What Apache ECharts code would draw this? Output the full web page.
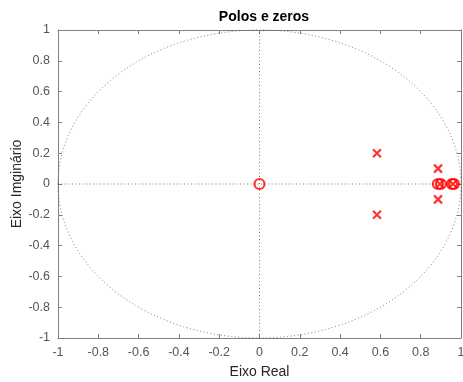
<!DOCTYPE html>
<html>
<head>
<meta charset="utf-8">
<script src="https://cdn.jsdelivr.net/npm/echarts@6/dist/echarts.min.js"></script>
<style>
html, body { margin: 0; padding: 0; background: #fff; }
#chart { width: 463px; height: 382px; }
</style>
</head>
<body>
<div id="chart"></div>
<script>
// zeros (o) and poles (x)
const zeros = [[0, 0], [0.885, 0], [0.9, 0], [0.955, 0], [0.965, 0]]
const poles = [[0.583, 0.2], [0.583, -0.2], [0.886, 0.1], [0.886, -0.1], [0.895, 0], [0.96, 0]]
const axisRange = [-1, 1]
const tickStep = 0.2

const myChart = echarts.init(document.getElementById('chart'))

const fontFam = 'Liberation Sans, Arial, sans-serif'
const axisColor = '#7f7f7f'
const labelColor = '#555'

function boxAxis(pos, showLabel) {
	return {
		type: 'value',
		position: pos,
		min: axisRange[0],
		max: axisRange[1],
		interval: tickStep,
		axisLine: { show: true, onZero: false, lineStyle: { color: axisColor, width: 1 } },
		axisTick: { show: true, inside: true, length: 4, lineStyle: { color: axisColor } },
		axisLabel: { show: showLabel, color: labelColor, fontSize: 12.5, fontFamily: fontFam, margin: 8 },
		splitLine: { show: false }
	}
}

const xBottom = Object.assign(boxAxis('bottom', true), {
	name: 'Eixo Real', nameLocation: 'middle', nameGap: 27, nameMoveOverlap: false,
	nameTextStyle: { color: '#262626', fontSize: 14, fontFamily: fontFam }
})
const yLeft = Object.assign(boxAxis('left', true), {
	name: 'Eixo Imginário', nameLocation: 'middle', nameGap: 34, nameMoveOverlap: false,
	nameTextStyle: { color: '#262626', fontSize: 14, fontFamily: fontFam }
})

// unit circle drawn through the axis scales
function unitCircle(params, api) {
	const c = api.coord([0, 0])
	const s = api.size([1, 1])
	const rx = s[0], ry = s[1]
	return {
		type: 'path',
		shape: {
			pathData: 'M' + (c[0] - rx) + ' ' + c[1] +
				' A' + rx + ' ' + ry + ' 0 1 0 ' + (c[0] + rx) + ' ' + c[1] +
				' A' + rx + ' ' + ry + ' 0 1 0 ' + (c[0] - rx) + ' ' + c[1] + ' Z'
		},
		style: { fill: 'none', stroke: '#555', lineWidth: 0.8, lineDash: [1, 2.5] }
	}
}

const dotted = { color: '#555', width: 0.8, type: [1, 2.5] }

myChart.setOption({
	animation: false,
	title: {
		text: 'Polos e zeros', left: 259, top: 5, textAlign: 'center',
		textStyle: { fontSize: 14, fontWeight: 'bold', color: '#000', fontFamily: fontFam }
	},
	grid: { left: 58, right: 2, top: 30, bottom: 44, outerBoundsMode: 'none' },
	xAxis: [xBottom, boxAxis('top', false)],
	yAxis: [yLeft, boxAxis('right', false)],
	series: [
		{
			type: 'custom', renderItem: unitCircle, data: [[0, 0]], silent: true, z: 1
		},
		{
			type: 'line', data: [[axisRange[0], 0], [axisRange[1], 0]], symbol: 'none',
			lineStyle: dotted, silent: true, z: 1
		},
		{
			type: 'line', data: [[0, axisRange[0]], [0, axisRange[1]]], symbol: 'none',
			lineStyle: dotted, silent: true, z: 1
		},
		{
			name: 'zeros', type: 'scatter', data: zeros, symbol: 'circle', symbolSize: 10,
			itemStyle: { color: 'rgba(0,0,0,0)', borderColor: '#ff0000', borderWidth: 2.2 }, z: 3
		},
		{
			name: 'polos', type: 'scatter', data: poles,
			symbol: 'path://M0,0L10,10M10,0L0,10', symbolSize: 8,
			itemStyle: { color: 'rgba(0,0,0,0)', borderColor: '#ff0000', borderWidth: 2.2 }, z: 4
		}
	]
})
</script>
</body>
</html>
